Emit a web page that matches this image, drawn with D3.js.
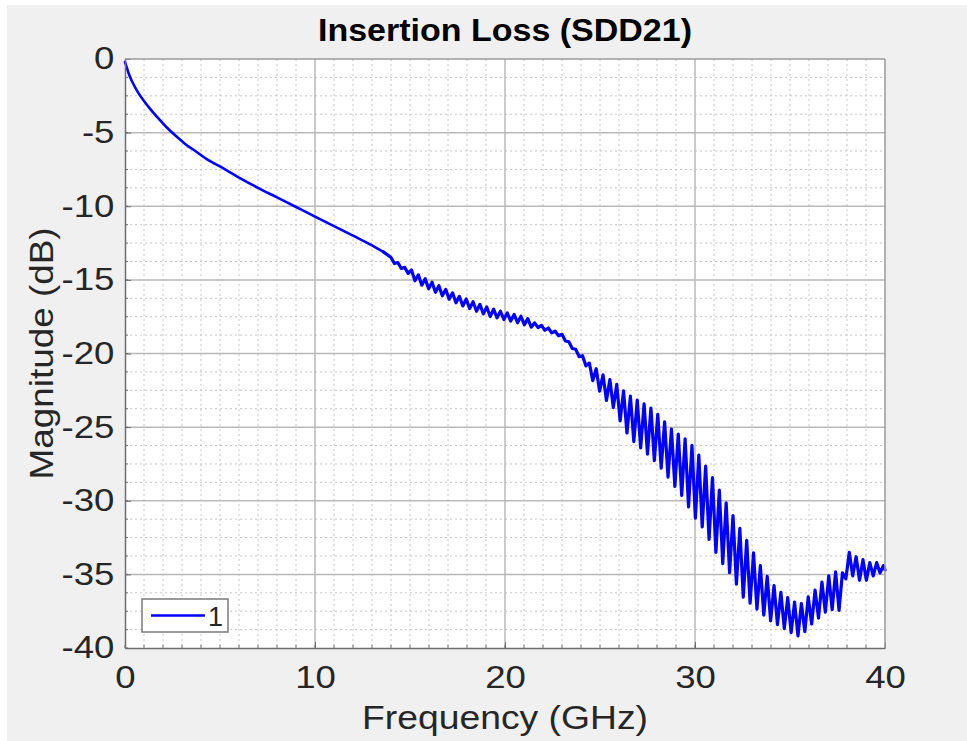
<!DOCTYPE html>
<html>
<head>
<meta charset="utf-8">
<script src="https://cdn.jsdelivr.net/npm/d3@7"></script>
<style>
  body { margin: 0; background: #ffffff; }
  svg { display: block; font-family: "Liberation Sans", Arial, Helvetica, sans-serif; }
</style>
</head>
<body>
<div id="chart"></div>
<script>
// smooth part of the curve (GHz, dB)
var smoothFreq = [0, 0.1, 0.2, 0.4, 0.7, 1.0, 1.3, 1.7, 2.2, 2.7, 3.2, 3.7, 4.3, 5.0, 6.0, 7.0, 8.0, 9.0, 10.0, 11.0, 12.0, 13.0, 13.6];
var smoothDb = [-0.2, -0.6, -1.0, -1.6, -2.3, -2.85, -3.35, -3.95, -4.65, -5.25, -5.8, -6.25, -6.8, -7.3, -8.05, -8.75, -9.4, -10.05, -10.7, -11.35, -12.0, -12.65, -13.1];

// ripple part, alternating peaks and troughs
var rippleFreq = [13.6, 14.00, 14.18, 14.36, 14.54, 14.72, 14.90, 15.08, 15.26, 15.44, 15.62,
  15.80, 15.98, 16.16, 16.34, 16.52, 16.70, 16.88, 17.06, 17.24, 17.42,
  17.60, 17.78, 17.96, 18.14, 18.32, 18.50, 18.68, 18.86, 19.04, 19.22,
  19.40, 19.58, 19.76, 19.94, 20.12, 20.30, 20.48, 20.66, 20.84, 21.02,
  21.20, 21.38, 21.56, 21.74, 21.92, 22.10, 22.28, 22.46, 22.64, 22.82,
  23.00, 23.18, 23.36, 23.54, 23.72, 23.90, 24.08, 24.26, 24.44, 24.62,
  24.80, 24.98, 25.16, 25.34, 25.52, 25.70, 25.88, 26.06, 26.24, 26.42,
  26.60, 26.78, 26.96, 27.14, 27.32, 27.50, 27.68, 27.86, 28.04, 28.22,
  28.40, 28.58, 28.76, 28.94, 29.12, 29.30, 29.48, 29.66, 29.84, 30.02,
  30.20, 30.38, 30.56, 30.74, 30.92, 31.10, 31.28, 31.46, 31.64, 31.82,
  32.00, 32.18, 32.36, 32.54, 32.72, 32.90, 33.08, 33.26, 33.44, 33.62,
  33.80, 33.98, 34.16, 34.34, 34.52, 34.70, 34.88, 35.06, 35.24, 35.42,
  35.60, 35.78, 35.96, 36.14, 36.32, 36.50, 36.68, 36.86, 37.04, 37.22,
  37.40, 37.58, 37.76, 37.94, 38.12, 38.30, 38.48, 38.66, 38.84, 39.02,
  39.20, 39.38, 39.56, 39.74, 39.92, 40.00];
var rippleDb = [-13.1, -13.48, -13.89, -13.82, -14.22, -14.15, -14.56, -14.33, -15.06, -14.66, -15.36,
  -14.92, -15.60, -15.16, -15.84, -15.40, -16.08, -15.64, -16.32, -15.88, -16.56,
  -16.12, -16.77, -16.30, -16.95, -16.48, -17.13, -16.66, -17.31, -16.84, -17.49,
  -16.99, -17.58, -17.13, -17.69, -17.24, -17.80, -17.35, -17.91, -17.47, -18.05,
  -17.63, -18.21, -17.92, -18.24, -18.09, -18.42, -18.27, -18.60, -18.48, -18.79,
  -18.70, -19.15, -19.20, -19.66, -19.71, -20.21, -20.15, -20.84, -20.65, -21.84,
  -21.03, -22.56, -21.45, -23.19, -21.77, -23.67, -22.10, -24.58, -22.54, -25.40,
  -22.90, -25.99, -23.17, -26.41, -23.42, -26.84, -23.70, -27.28, -24.14, -27.79,
  -24.64, -28.40, -25.14, -29.03, -25.47, -29.63, -25.80, -30.42, -26.23, -31.19,
  -26.90, -31.77, -27.65, -32.63, -28.43, -33.51, -29.27, -34.27, -30.14, -34.89,
  -31.01, -35.67, -31.87, -36.55, -32.69, -36.95, -33.54, -37.36, -34.41, -37.77,
  -35.14, -38.16, -35.76, -38.41, -36.22, -38.68, -36.58, -38.95, -36.89, -39.18,
  -36.98, -38.89, -36.53, -38.37, -36.07, -37.97, -35.52, -37.57, -35.10, -37.40,
  -34.83, -37.45, -34.90, -35.30, -33.50, -35.10, -33.80, -35.40, -34.00, -35.40,
  -34.20, -35.10, -34.20, -34.90, -34.40, -34.70];

var xTicks = [0, 10, 20, 30, 40];
var yTicks = [0, -5, -10, -15, -20, -25, -30, -35, -40];
var xMinor = d3.range(0, 41, 1);
var yMinor = d3.range(0, -40.01, -1.25);

var title = "Insertion Loss (SDD21)";
var xLabel = "Frequency (GHz)";
var yLabel = "Magnitude (dB)";
var seriesName = "1";

var W = 967, H = 741;
var margin = {left: 125, right: 82, top: 59, bottom: 93};
var plotW = W - margin.left - margin.right;
var plotH = H - margin.top - margin.bottom;

var smoothData = smoothFreq.map(function (f, i) { return {f: f, db: smoothDb[i]}; });
var rippleData = rippleFreq.map(function (f, i) { return {f: f, db: rippleDb[i]}; });

var svg = d3.select("#chart").append("svg").attr("width", W).attr("height", H);

// figure background
svg.append("rect").attr("x", 7).attr("y", 5).attr("width", W - 7).attr("height", H - 5).attr("fill", "#f0f0f0");

var x = d3.scaleLinear().domain([0, 40]).range([0, plotW]);
var y = d3.scaleLinear().domain([-40, 0]).range([plotH, 0]);

var g = svg.append("g").attr("transform", "translate(" + margin.left + "," + margin.top + ")");

g.append("rect").attr("width", plotW).attr("height", plotH).attr("fill", "#ffffff");

// minor grid (dotted)
g.append("g").selectAll("line").data(xMinor.filter(function (d) { return d % 10 !== 0; }))
  .enter().append("line")
  .attr("x1", function (d) { return x(d); }).attr("x2", function (d) { return x(d); })
  .attr("y1", 0).attr("y2", plotH)
  .attr("stroke", "#c6c6c6").attr("stroke-width", 1).attr("stroke-dasharray", "2,3");
g.append("g").selectAll("line").data(yMinor.filter(function (d) { return d % 5 !== 0; }))
  .enter().append("line")
  .attr("y1", function (d) { return y(d); }).attr("y2", function (d) { return y(d); })
  .attr("x1", 0).attr("x2", plotW)
  .attr("stroke", "#c6c6c6").attr("stroke-width", 1).attr("stroke-dasharray", "2,3");

// major grid
g.append("g").selectAll("line").data(xTicks.slice(1, -1))
  .enter().append("line")
  .attr("x1", function (d) { return x(d); }).attr("x2", function (d) { return x(d); })
  .attr("y1", 0).attr("y2", plotH)
  .attr("stroke", "#b8b8b8").attr("stroke-width", 1.5);
g.append("g").selectAll("line").data(yTicks.slice(1, -1))
  .enter().append("line")
  .attr("y1", function (d) { return y(d); }).attr("y2", function (d) { return y(d); })
  .attr("x1", 0).attr("x2", plotW)
  .attr("stroke", "#b8b8b8").attr("stroke-width", 1.5);

// the curve: smooth start, then the rippling part
var smoothLine = d3.line().x(function (d) { return x(d.f); }).y(function (d) { return y(d.db); })
  .curve(d3.curveMonotoneX);
var rippleLine = d3.line().x(function (d) { return x(d.f); }).y(function (d) { return y(d.db); });
g.append("path").datum(smoothData)
  .attr("d", smoothLine)
  .attr("fill", "none").attr("stroke", "#0000ff").attr("stroke-width", 2.6)
  .attr("stroke-linecap", "round");
g.append("path").datum(rippleData)
  .attr("d", rippleLine)
  .attr("fill", "none").attr("stroke", "#0000ff").attr("stroke-width", 3.2)
  .attr("stroke-linejoin", "round").attr("stroke-linecap", "round");

// axes, ticks pointing inward like matlab
var axisColor = "#262626";
var plain = function (d) { return String(d); };
var xAxis = g.append("g").attr("transform", "translate(0," + plotH + ")")
  .call(d3.axisBottom(x).tickValues(xTicks).tickFormat(plain).tickSizeInner(-6).tickSizeOuter(0).tickPadding(18));
var yAxis = g.append("g")
  .call(d3.axisLeft(y).tickValues(yTicks).tickFormat(plain).tickSizeInner(-6).tickSizeOuter(0).tickPadding(9));
[xAxis, yAxis].forEach(function (a) {
  a.select(".domain").attr("stroke", "#6e6e6e").attr("stroke-width", 1.5);
  a.selectAll(".tick line").attr("stroke", "#6e6e6e");
  a.selectAll(".tick text").attr("fill", axisColor).style("font-size", "31px")
    .attr("transform", "scale(1.18,1)");
});
xAxis.selectAll(".tick text").attr("dy", "0.71em");

// minor ticks
g.append("g").selectAll("line").data(xMinor)
  .enter().append("line")
  .attr("x1", function (d) { return x(d); }).attr("x2", function (d) { return x(d); })
  .attr("y1", plotH).attr("y2", plotH - 3)
  .attr("stroke", "#6e6e6e");
g.append("g").selectAll("line").data(yMinor)
  .enter().append("line")
  .attr("y1", function (d) { return y(d); }).attr("y2", function (d) { return y(d); })
  .attr("x1", 0).attr("x2", 3)
  .attr("stroke", "#6e6e6e");

// box top and right
g.append("line").attr("x1", 0).attr("x2", plotW).attr("y1", 0).attr("y2", 0)
  .attr("stroke", "#9a9a9a").attr("stroke-width", 1.5);
g.append("line").attr("x1", plotW).attr("x2", plotW).attr("y1", 0).attr("y2", plotH)
  .attr("stroke", "#9a9a9a").attr("stroke-width", 1.5);

// legend
var leg = g.append("g").attr("transform", "translate(" + 17 + "," + (plotH - 49) + ")");
leg.append("rect").attr("width", 86).attr("height", 33)
  .attr("fill", "#ffffff").attr("stroke", "#7a7a7a").attr("stroke-width", 1.5);
leg.append("line").attr("x1", 9).attr("x2", 63).attr("y1", 16.5).attr("y2", 16.5)
  .attr("stroke", "#0000ff").attr("stroke-width", 2.6);
leg.append("text").attr("x", 66).attr("y", 27).text(seriesName)
  .attr("fill", axisColor).style("font-size", "27px");

// labels
svg.append("text").attr("x", margin.left + plotW / 2).attr("y", 41)
  .attr("text-anchor", "middle").style("font-size", "31px").style("font-weight", "bold")
  .attr("fill", "#000").attr("textLength", 374).attr("lengthAdjust", "spacingAndGlyphs").text(title);
svg.append("text").attr("x", margin.left + plotW / 2).attr("y", 729)
  .attr("text-anchor", "middle").style("font-size", "33px")
  .attr("fill", axisColor).attr("textLength", 286).attr("lengthAdjust", "spacingAndGlyphs").text(xLabel);
svg.append("text").attr("transform", "translate(53," + (margin.top + plotH / 2) + ") rotate(-90)")
  .attr("text-anchor", "middle").style("font-size", "33px")
  .attr("fill", axisColor).attr("textLength", 252).attr("lengthAdjust", "spacingAndGlyphs").text(yLabel);
</script>
</body>
</html>
